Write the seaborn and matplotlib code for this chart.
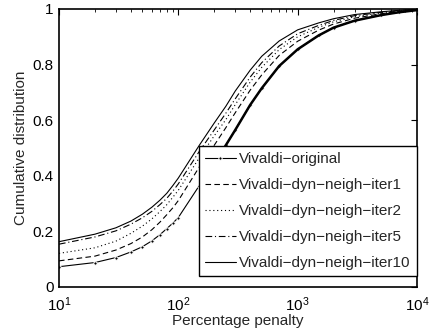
import numpy as np
import pandas as pd
import matplotlib
matplotlib.use("Agg")
import matplotlib.pyplot as plt
import seaborn as sns
from matplotlib.ticker import LogLocator, NullFormatter

penalty = [10, 20, 30, 40, 50, 60, 70, 80, 90, 100, 150, 200, 250, 300, 400, 500,
           700, 1000, 1500, 2000, 3000, 5000, 7000, 10000]

original = [.073, .088, .106, .126, .145, .166, .188, .210, .230, .250, .365, .445,
            .510, .565, .655, .715, .795, .855, .905, .933, .958, .978, .988, .996]
iter1 = [.094, .111, .133, .156, .180, .206, .233, .260, .285, .311, .432, .510,
         .573, .627, .708, .763, .833, .884, .924, .946, .967, .983, .991, .997]
iter2 = [.121, .141, .165, .193, .219, .245, .271, .296, .323, .348, .465, .544,
         .602, .656, .737, .790, .854, .900, .934, .954, .972, .986, .993, .998]
iter5 = [.154, .180, .202, .226, .249, .272, .296, .319, .345, .371, .488, .565,
         .625, .677, .755, .807, .867, .911, .941, .959, .976, .988, .994, .999]
iter10 = [.163, .190, .213, .237, .262, .287, .312, .337, .365, .392, .510, .590,
          .650, .705, .780, .830, .885, .925, .950, .965, .980, .990, .995, .999]

labels = ["Vivaldi\u2212original", "Vivaldi\u2212dyn\u2212neigh\u2212iter1",
          "Vivaldi\u2212dyn\u2212neigh\u2212iter2", "Vivaldi\u2212dyn\u2212neigh\u2212iter5",
          "Vivaldi\u2212dyn\u2212neigh\u2212iter10"]
series = [original, iter1, iter2, iter5, iter10]

sns.set_style("white")
plt.rcParams['font.family'] = ['Liberation Sans', 'DejaVu Sans']
plt.rcParams['mathtext.fontset'] = 'custom'
plt.rcParams['mathtext.rm'] = 'Liberation Sans'
plt.rcParams['mathtext.it'] = 'Liberation Sans'
plt.rcParams['font.size'] = 11

fig = plt.figure(figsize=(4.32, 3.31), dpi=100)
ax = fig.add_axes([59/432, 44/331, 358/432, 278/331])

styles = [dict(linestyle='-', marker='o', markersize=2.4),
          dict(linestyle=(0, (5, 3))),
          dict(linestyle=(0, (1, 2.5))),
          dict(linestyle=(0, (6, 2.5, 1, 2.5))),
          dict(linestyle='-')]

for lab, vals, st in zip(labels, series, styles):
    df = pd.DataFrame({"x": penalty, "y": vals})
    sns.lineplot(data=df, x="x", y="y", ax=ax, color='k', linewidth=0.8,
                 label=lab, **st)

# dense sampling in the reference makes the marker-line look heavy at high x
df_o = pd.DataFrame({"x": penalty, "y": original})
df_o = df_o[df_o["x"] >= 200]
sns.lineplot(data=df_o, x="x", y="y", ax=ax, color='k', linewidth=1.8,
             legend=False)

ax.set_xscale('log')
ax.set_xlim(10, 10000)
ax.set_ylim(0, 1)
ax.set_yticks([0, 0.2, 0.4, 0.6, 0.8, 1.0])
ax.set_yticklabels(["0", "0.2", "0.4", "0.6", "0.8", "1"])
ax.set_xticks([10, 100, 1000, 10000])
ax.set_xticklabels([r"$10^1$", r"$10^2$", r"$10^3$", r"$10^4$"])
ax.xaxis.set_minor_locator(LogLocator(base=10, subs=np.arange(2, 10)))
ax.xaxis.set_minor_formatter(NullFormatter())
ax.tick_params(axis='both', which='both', direction='in', top=True, right=True,
               colors='k', labelsize=11)
ax.tick_params(axis='x', pad=6)
ax.tick_params(axis='y', pad=4)
ax.tick_params(which='major', length=4, width=0.8)
ax.tick_params(which='minor', length=2, width=0.6)
for s in ax.spines.values():
    s.set_visible(True)
    s.set_color('k')
    s.set_linewidth(1.2)

ax.set_xlabel("Percentage penalty", fontsize=11, labelpad=0)
ax.set_ylabel("Cumulative distribution", fontsize=11, labelpad=3)

leg = ax.legend(loc='lower right', bbox_to_anchor=(1.0, 11/278), borderaxespad=0,
                frameon=True, fancybox=False, edgecolor='k', framealpha=1,
                handlelength=2.0, labelspacing=0.78, handletextpad=0.25,
                borderpad=0.4, fontsize=11)
leg.get_frame().set_linewidth(1.0)

fig.savefig("out.png", dpi=100)
